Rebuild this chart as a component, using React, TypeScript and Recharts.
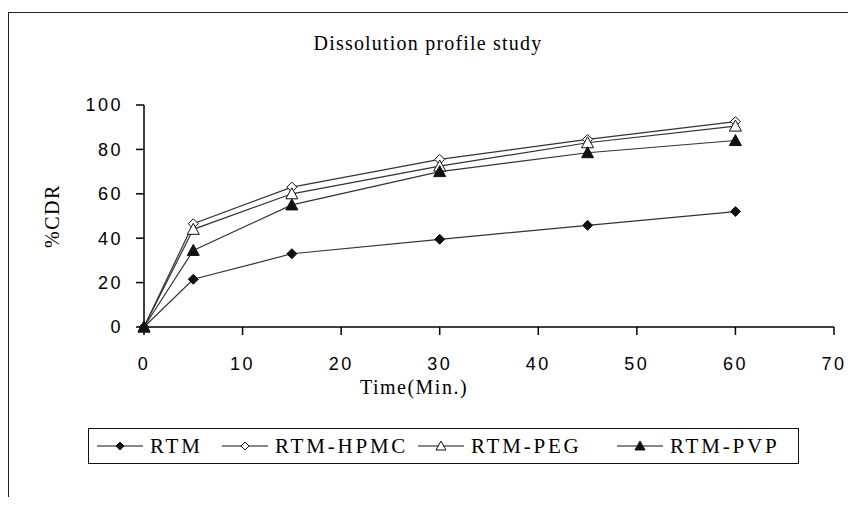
import { LineChart, Line, XAxis, YAxis, Legend, Label } from "recharts";

// time points (min) and %CDR for each formulation
const times = [0, 5, 15, 30, 45, 60];
const rtm = [0, 21.5, 33, 39.5, 45.8, 52];
const rtmHpmc = [0, 46.5, 63, 75.5, 84.5, 92.5];
const rtmPeg = [0, 44, 60, 72.5, 83, 90.5];
const rtmPvp = [0, 34.5, 55, 70, 78.5, 84];

const xTicks = [0, 10, 20, 30, 40, 50, 60, 70];
const yTicks = [0, 20, 40, 60, 80, 100];

const seriesNames = ["RTM", "RTM-HPMC", "RTM-PEG", "RTM-PVP"];
const seriesValues = [rtm, rtmHpmc, rtmPeg, rtmPvp];
const markerShapes = ["diamond", "diamond", "triangle", "triangle"];
const markerFilled = [true, false, false, true];

const data = times.map((t, i) => {
  const row: Record<string, number> = { time: t };
  seriesNames.forEach((n, s) => {
    row[n] = seriesValues[s][i];
  });
  return row;
});

const ink = "#111";
const serif = "'Liberation Serif', 'Times New Roman', serif";
const tickStyle = { fill: "#000", fontSize: 18, fontFamily: "'Liberation Sans', Arial, sans-serif", letterSpacing: 2.5 };
// legend entry widths, so the four entries spread like the original
const legendItemWidths = [125, 196, 199, 170];

function Marker({ cx, cy, shape, filled, r = 5 }: { cx: number; cy: number; shape: string; filled: boolean; r?: number }) {
  const pts =
    shape === "diamond"
      ? `${cx},${cy - r} ${cx + r},${cy} ${cx},${cy + r} ${cx - r},${cy}`
      : `${cx},${cy - r - 1} ${cx + r + 1},${cy + r} ${cx - r - 1},${cy + r}`;
  return <polygon points={pts} fill={filled ? ink : "#fff"} stroke={ink} strokeWidth={1} />;
}

function LegendBox() {
  return (
    <div
      style={{
        boxSizing: "border-box",
        width: 711,
        height: 36,
        border: "1px solid #111",
        display: "flex",
        alignItems: "center",
        paddingLeft: 8,
        fontFamily: serif,
        fontSize: 21,
        letterSpacing: 2.8,
        color: "#000",
        background: "#fff",
        whiteSpace: "nowrap",
      }}
    >
      {seriesNames.map((n, i) => (
        <div key={n} style={{ display: "flex", alignItems: "center", width: legendItemWidths[i], flex: "none" }}>
          <svg width={46} height={14} style={{ marginRight: 7 }}>
            <line x1={0} y1={7} x2={46} y2={7} stroke={ink} strokeWidth={1} />
            <Marker cx={23} cy={7} shape={markerShapes[i]} filled={markerFilled[i]} r={4} />
          </svg>
          <span>{n}</span>
        </div>
      ))}
    </div>
  );
}

export default function App() {
  return (
    <div
      style={{
        position: "relative",
        width: 856,
        height: 505,
        margin: -8,
        overflow: "hidden",
        background: "#fff",
      }}
    >
      <div
        style={{
          position: "absolute",
          left: 8,
          top: 12,
          width: 848,
          height: 500,
          borderTop: "1px solid #222",
          borderLeft: "1px solid #222",
        }}
      />
      <div
        style={{
          position: "absolute",
          left: 0,
          top: 32,
          width: 856,
          textAlign: "center",
          fontFamily: serif,
          fontSize: 20,
          letterSpacing: 1.2,
          color: "#000",
        }}
      >
        Dissolution profile study
      </div>
      <div style={{ position: "absolute", left: 0, top: 0 }}>
        <LineChart width={856} height={505} data={data} margin={{ top: 105, right: 22, bottom: 138, left: 84 }}>
          <XAxis
            dataKey="time"
            type="number"
            domain={[0, 70]}
            ticks={xTicks}
            height={40}
            stroke="#000"
            strokeWidth={1.5}
            tickSize={8}
            tickMargin={22}
            tick={tickStyle}
          >
            <Label
              value="Time(Min.)"
              position="bottom"
              offset={13}
              dx={-75}
              style={{ fontFamily: serif, fontSize: 20, letterSpacing: 1.5, fill: "#000" }}
            />
          </XAxis>
          <YAxis
            type="number"
            domain={[0, 100]}
            ticks={yTicks}
            width={60}
            stroke="#000"
            strokeWidth={1.5}
            tickSize={8}
            tickMargin={13}
            tick={tickStyle}
          >
            <Label
              content={(props: any) => {
                const vb = props.viewBox || {};
                const x = vb.x - 32;
                const y = vb.y + vb.height / 2;
                return (
                  <text
                    x={x}
                    y={y}
                    transform={`rotate(-90, ${x}, ${y})`}
                    textAnchor="middle"
                    dominantBaseline="central"
                    style={{ fontFamily: serif, fontSize: 20, letterSpacing: 1.5, fill: "#000" }}
                  >
                    %CDR
                  </text>
                );
              }}
            />
          </YAxis>
          <Legend
            verticalAlign="middle"
            align="center"
            layout="horizontal"
            wrapperStyle={{ left: 88, top: 428, width: 711, height: 36 }}
            content={() => <LegendBox />}
          />
          {seriesNames.map((n, i) => (
            <Line
              key={n}
              dataKey={n}
              name={n}
              stroke="#333"
              strokeWidth={1.2}
              isAnimationActive={false}
              dot={(p: any) => (
                <Marker
                  key={`${n}-${p.index}`}
                  cx={p.cx}
                  cy={p.cy}
                  shape={markerShapes[i]}
                  filled={markerFilled[i]}
                />
              )}
              activeDot={false}
            />
          ))}
        </LineChart>
      </div>
    </div>
  );
}
